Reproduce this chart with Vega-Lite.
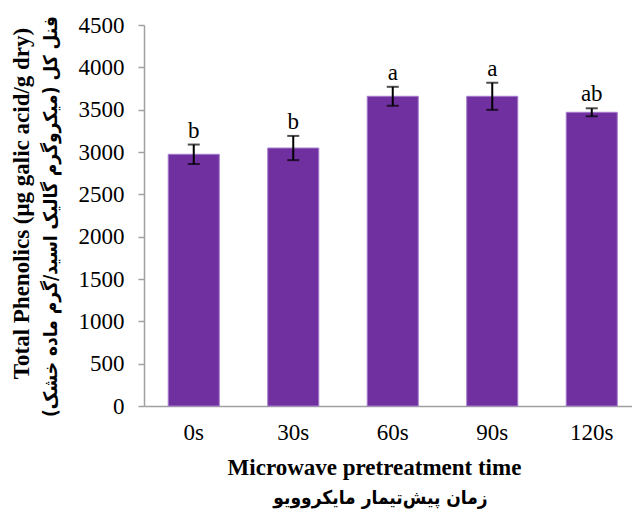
{
  "$schema": "https://vega.github.io/schema/vega-lite/v6.json",
  "width": 488,
  "height": 381,
  "autosize": {"type": "none"},
  "padding": {"left": 144, "top": 25, "right": 0, "bottom": 105},
  "background": "white",
  "config": {"view": {"stroke": null}, "font": "Liberation Serif"},
  "data": {
    "values": [
      {"t": "0s", "v": 2973, "lo": 2858, "hi": 3088, "g": "b"},
      {"t": "30s", "v": 3047, "lo": 2904, "hi": 3190, "g": "b"},
      {"t": "60s", "v": 3658, "lo": 3546, "hi": 3770, "g": "a"},
      {"t": "90s", "v": 3658, "lo": 3498, "hi": 3818, "g": "a"},
      {"t": "120s", "v": 3469, "lo": 3422, "hi": 3516, "g": "ab"}
    ]
  },
  "resolve": {"axis": {"x": "independent", "y": "independent"}},
  "layer": [
    {
      "mark": {"type": "bar", "fill": "#7030A0", "stroke": "#a57ccc", "strokeWidth": 1},
      "encoding": {
        "x": {
          "field": "t",
          "type": "nominal",
          "sort": null,
          "scale": {"range": [0, 497.5], "paddingInner": 0.487, "paddingOuter": 0.2435},
          "axis": {
            "orient": "bottom",
            "labelAngle": 0,
            "labelFont": "Liberation Serif",
            "labelFontSize": 23,
            "labelColor": "black",
            "labelPadding": 15,
            "ticks": false,
            "domainColor": "#a0a0a0",
            "domainWidth": 1.5,
            "title": "Microwave pretreatment time",
            "titleFont": "Liberation Serif",
            "titleFontSize": 23,
            "titleFontWeight": "bold",
            "titleColor": "black",
            "titleX": 230,
            "titleY": 61,
            "titleBaseline": "middle",
            "titleAlign": "center",
            "titleAnchor": null
          }
        },
        "y": {
          "field": "v",
          "type": "quantitative",
          "scale": {"domain": [0, 4500]},
          "axis": {
            "orient": "left",
            "values": [0, 500, 1000, 1500, 2000, 2500, 3000, 3500, 4000, 4500],
            "format": "d",
            "grid": false,
            "domainColor": "#a0a0a0",
            "domainWidth": 1.5,
            "tickColor": "#a0a0a0",
            "tickWidth": 1.5,
            "tickSize": 6,
            "labelFont": "Liberation Serif",
            "labelFontSize": 23,
            "labelColor": "black",
            "labelPadding": 14,
            "title": "Total Phenolics (μg galic acid/g dry)",
            "titleFont": "Liberation Serif",
            "titleFontSize": 23,
            "titleFontWeight": "bold",
            "titleColor": "black",
            "titleAngle": -90,
            "titleX": -123,
            "titleY": 178,
            "titleBaseline": "middle",
            "titleAlign": "center",
            "titleAnchor": null
          }
        }
      }
    },
    {
      "mark": {"type": "rule", "color": "black", "strokeWidth": 2},
      "encoding": {
        "x": {
          "field": "t",
          "type": "nominal",
          "sort": null,
          "axis": {
            "orient": "bottom",
            "labels": false,
            "ticks": false,
            "domain": false,
            "title": "زمان پیش‌تیمار مایکروویو",
            "titleFont": "DejaVu Sans Condensed, DejaVu Sans",
            "titleFontSize": 19,
            "titleFontWeight": "bold",
            "titleColor": "black",
            "titleX": 236,
            "titleY": 91,
            "titleBaseline": "middle",
            "titleAlign": "center",
            "titleAnchor": null
          }
        },
        "y": {
          "field": "lo",
          "type": "quantitative",
          "axis": {
            "orient": "left",
            "labels": false,
            "ticks": false,
            "domain": false,
            "grid": false,
            "title": "فنل کل (میکروگرم گالیک اسید/گرم ماده خشک)",
            "titleFont": "DejaVu Sans Condensed, DejaVu Sans",
            "titleFontSize": 19,
            "titleFontWeight": "bold",
            "titleColor": "black",
            "titleAngle": -90,
            "titleX": -94,
            "titleY": 191,
            "titleBaseline": "middle",
            "titleAlign": "center",
            "titleAnchor": null
          }
        },
        "y2": {"field": "hi"}
      }
    },
    {
      "mark": {"type": "tick", "color": "black", "thickness": 2, "size": 12, "orient": "horizontal"},
      "encoding": {
        "x": {"field": "t", "type": "nominal", "sort": null, "axis": null},
        "y": {"field": "lo", "type": "quantitative", "axis": null}
      }
    },
    {
      "mark": {"type": "tick", "color": "black", "thickness": 2, "size": 12, "orient": "horizontal"},
      "encoding": {
        "x": {"field": "t", "type": "nominal", "sort": null, "axis": null},
        "y": {"field": "hi", "type": "quantitative", "axis": null}
      }
    },
    {
      "mark": {"type": "text", "baseline": "alphabetic", "dy": -7, "fontSize": 23, "font": "Liberation Serif", "color": "black"},
      "encoding": {
        "x": {"field": "t", "type": "nominal", "sort": null, "axis": null},
        "y": {"field": "hi", "type": "quantitative", "axis": null},
        "text": {"field": "g"}
      }
    }
  ]
}
